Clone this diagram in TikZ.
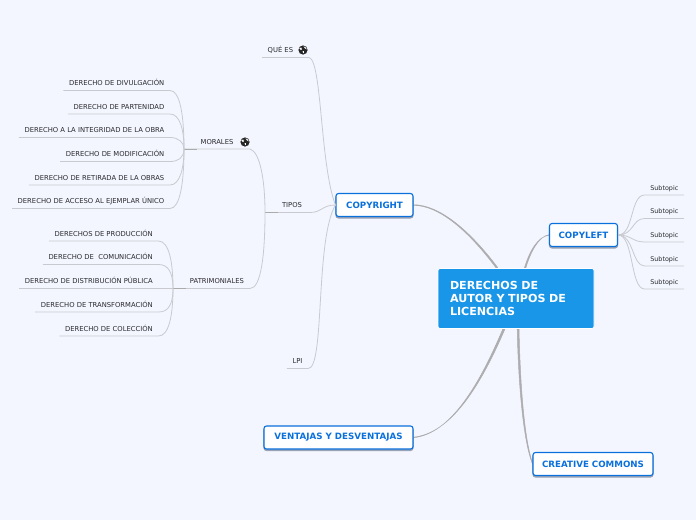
\documentclass[tikz,border=0pt]{standalone}
\usepackage{fontspec}
\setmainfont{DejaVu Sans}

\definecolor{bggray}{HTML}{F3F6FF}
\definecolor{linegray}{HTML}{C9CAD0}
\definecolor{maingray}{HTML}{ADADAF}
\definecolor{hubgray}{HTML}{ABABAB}
\definecolor{topicblue}{HTML}{0A70DC}
\definecolor{rootblue}{HTML}{1A96E8}
\definecolor{leaftext}{HTML}{2A2A2E}
\definecolor{shadegray}{HTML}{9AA3B5}

\tikzset{
  rootbox/.style={draw=white, line width=0.8pt, fill=rootblue, rounded corners=2pt, minimum width=156pt, minimum height=60pt,
    text=white, font=\fontsize{11.1}{13.4}\selectfont\bfseries, align=left, text width=132pt, inner sep=0pt},
  topicbox/.style={draw=topicblue, line width=1.1pt, fill=white, rounded corners=2.5pt, minimum height=23pt, inner xsep=0pt, inner ysep=0pt,
    text=topicblue, font=\fontsize{8.7}{10}\selectfont\bfseries, preaction={draw=shadegray, fill=shadegray, transform canvas={yshift=-1.5pt}}},
  leaf/.style={text=leaftext, font=\fontsize{6.8}{8}\selectfont, inner xsep=5.5pt, inner ysep=0pt, text height=6pt, text depth=4.5pt},
  subleaf/.style={leaf, font=\fontsize{6.4}{8}\selectfont},
  subline/.style={draw=linegray, line width=0.8pt},
  mainline/.style={fill=maingray, draw=maingray, line width=0.5pt},
  globeicon/.pic={
    \fill[black!85] (0,0) circle (4.6pt);
    \fill[white] (-3.6,-1.6) .. controls (-2,-3.8) and (-0.8,-2.2) .. (-1.2,-0.8) .. controls (-1.2,0.8) and (-2.6,0.6) .. cycle;
    \fill[white] (0.6,-3.6) .. controls (2.2,-3.6) and (3.6,-2) .. (3.8,-0.6) .. controls (2.4,-1.2) and (1,-2) .. cycle;
    \fill[white] (-0.4,1) .. controls (0.6,0.4) and (1.8,1) .. (1,3.4) .. controls (0.2,3.2) and (-0.4,2.2) .. cycle;
  }
}

\begin{document}
\begin{tikzpicture}[x=1pt,y=-1pt]
\useasboundingbox[fill=bggray] (0,0) rectangle (696,520);

% Zweige zum Zentrum
\coordinate (copyrightend) at (413,205);
\coordinate (copyleftend) at (549,235);
\coordinate (ventajasend) at (413,437.5);
\coordinate (creativeend) at (533,464);
\coordinate (rootcr) at (497.6,267.4);
\coordinate (rootcl) at (525.8,268);
\coordinate (rootve) at (505.2,328.4);
\coordinate (rootcc) at (519,328);
\path[mainline] (copyrightend) ++(0,-0.3) .. controls (440,204.6) and (470.6,231.6) .. (rootcr) -- ++(-1.2,0.9) .. controls (469.6,232.4) and (440,205.2) .. (413,205.3) -- cycle;
\path[mainline] (copyleftend) ++(0,-0.3) .. controls (538.5,236.4) and (530.5,252) .. (rootcl) -- ++(-1.4,0) .. controls (529.3,251.6) and (537.8,236.2) .. (549,235.3) -- cycle;
\path[mainline] (ventajasend) ++(0,-0.3) .. controls (451,433.8) and (480.8,385.4) .. (rootve) -- ++(-1.8,-0.8) .. controls (479.4,384.8) and (450.4,434.4) .. (413,437.7) -- cycle;
\path[mainline] (creativeend) ++(-0.2,-0.4) .. controls (524,440) and (520,380) .. (rootcc) -- ++(-1.8,0) .. controls (518.2,380) and (522.8,440) .. (532.6,464.3) -- cycle;

% zentrale Box
\node[rootbox] (root) at (516,298.5) {DERECHOS DE\\AUTOR Y TIPOS DE\\LICENCIAS};

% Hauptzweige
\node[topicbox, minimum width=77pt] (copyright) at (374.5,205) {COPYRIGHT};
\node[topicbox, minimum width=68pt] (copyleft) at (583.5,235) {COPYLEFT};
\node[topicbox, minimum width=149pt] (ventajas) at (338.5,437.5) {VENTAJAS Y DESVENTAJAS};
\node[topicbox, minimum width=120pt] (creative) at (593,464) {CREATIVE COMMONS};

% COPYLEFT
\node[subleaf, anchor=south east] (sub1) at (684,195) {Subtopic};
\node[subleaf, anchor=south east] (sub2) at (684,218.5) {Subtopic};
\node[subleaf, anchor=south east] (sub3) at (684,242) {Subtopic};
\node[subleaf, anchor=south east] (sub4) at (684,266) {Subtopic};
\node[subleaf, anchor=south east] (sub5) at (684,289) {Subtopic};
\draw[subline] (sub1.south east) -- (sub1.south west) .. controls (630,195) and (634,235) .. (copyleft.east);
\draw[subline] (sub2.south east) -- (sub2.south west) .. controls (632,218.5) and (634,235) .. (copyleft.east);
\draw[subline] (sub3.south east) -- (sub3.south west) .. controls (632,242) and (632,235) .. (copyleft.east);
\draw[subline] (sub4.south east) -- (sub4.south west) .. controls (632,266) and (634,235) .. (copyleft.east);
\draw[subline] (sub5.south east) -- (sub5.south west) .. controls (630,289) and (634,235) .. (copyleft.east);

% COPYRIGHT
\node[leaf, anchor=south west] (quees) at (262,57.5) {QUÉ ES};
\coordinate (queesend) at (309,57.5);
\pic at (303,50) {globeicon};
\node[leaf, anchor=south] (tipos) at (292,212.5) {TIPOS};
\coordinate (tiposhub) at (265,212.5);
\coordinate (tiposend) at (310,212.5);
\node[leaf, anchor=south] (lpi) at (297.5,368.5) {LPI};
\draw[subline] (quees.south west) -- (queesend) .. controls (322,60) and (320,165) .. (copyright.west);
\draw[subline] (tiposhub) -- (tiposend) .. controls (322,212.5) and (322,205) .. (copyright.west);
\draw[subline] (lpi.south west) -- (lpi.south east) .. controls (325,368.5) and (315,240) .. (copyright.west);
\draw[draw=hubgray, line width=0.8pt] (tiposhub) -- (278,212.5);

% MORALES
\node[leaf, anchor=south] (morales) at (217,149) {MORALES};
\coordinate (moraleshub) at (184,149);
\coordinate (moralesend) at (250,149);
\pic at (245,142) {globeicon};
\draw[subline] (moraleshub) -- (moralesend) .. controls (260,152) and (265,180) .. (tiposhub);
\draw[draw=hubgray, line width=1pt] (moraleshub) -- (197,149);
\node[leaf, anchor=south east] (divulgacion) at (170,90.5) {DERECHO DE DIVULGACIÓN};
\node[leaf, anchor=south east] (partenidad) at (170,114) {DERECHO DE PARTENIDAD};
\node[leaf, anchor=south east] (integridad) at (170,137.5) {DERECHO A LA INTEGRIDAD DE LA OBRA};
\node[leaf, anchor=south east] (modificacion) at (170,161.5) {DERECHO DE MODIFICACIÓN};
\node[leaf, anchor=south east] (retirada) at (170,185) {DERECHO DE RETIRADA DE LA OBRAS};
\node[leaf, anchor=south east] (acceso) at (170,208.5) {DERECHO DE ACCESO AL EJEMPLAR ÚNICO};
\draw[subline] (divulgacion.south west) -- (divulgacion.south east) .. controls (180,90.5) and (184,115) .. (moraleshub);
\draw[subline] (partenidad.south west) -- (partenidad.south east) .. controls (180,114) and (184,130) .. (moraleshub);
\draw[subline] (integridad.south west) -- (integridad.south east) .. controls (178,137.5) and (184,142) .. (moraleshub);
\draw[subline] (modificacion.south west) -- (modificacion.south east) .. controls (178,161.5) and (184,158) .. (moraleshub);
\draw[subline] (retirada.south west) -- (retirada.south east) .. controls (180,185) and (184,168) .. (moraleshub);
\draw[subline] (acceso.south west) -- (acceso.south east) .. controls (180,208.5) and (184,183) .. (moraleshub);

% PATRIMONIALES
\node[leaf, anchor=south] (patrimoniales) at (217,288.5) {PATRIMONIALES};
\coordinate (patrimhub) at (173,288.5);
\coordinate (patrimend) at (250,288.5);
\draw[subline] (patrimhub) -- (patrimend) .. controls (261,288.5) and (265,255) .. (tiposhub);
\draw[draw=hubgray, line width=0.8pt] (patrimhub) -- (186,288.5);
\node[leaf, anchor=south east] (produccion) at (158.5,241) {DERECHOS DE PRODUCCIÓN};
\node[leaf, anchor=south east] (comunicacion) at (158.5,264.5) {DERECHO DE\ \ COMUNICACIÓN};
\node[leaf, anchor=south east] (distribucion) at (158.5,288.5) {DERECHO DE DISTRIBUCIÓN PÚBLICA};
\node[leaf, anchor=south east] (transformacion) at (158.5,312) {DERECHO DE TRANSFORMACIÓN};
\node[leaf, anchor=south east] (coleccion) at (158.5,336) {DERECHO DE COLECCIÓN};
\draw[subline] (produccion.south west) -- (produccion.south east) .. controls (169,241) and (173,262) .. (patrimhub);
\draw[subline] (comunicacion.south west) -- (comunicacion.south east) .. controls (168,264.5) and (173,272) .. (patrimhub);
\draw[subline] (distribucion.south west) -- (distribucion.south east) -- (patrimhub);
\draw[subline] (transformacion.south west) -- (transformacion.south east) .. controls (168,312) and (173,305) .. (patrimhub);
\draw[subline] (coleccion.south west) -- (coleccion.south east) .. controls (169,336) and (173,315) .. (patrimhub);
\end{tikzpicture}
\end{document}
